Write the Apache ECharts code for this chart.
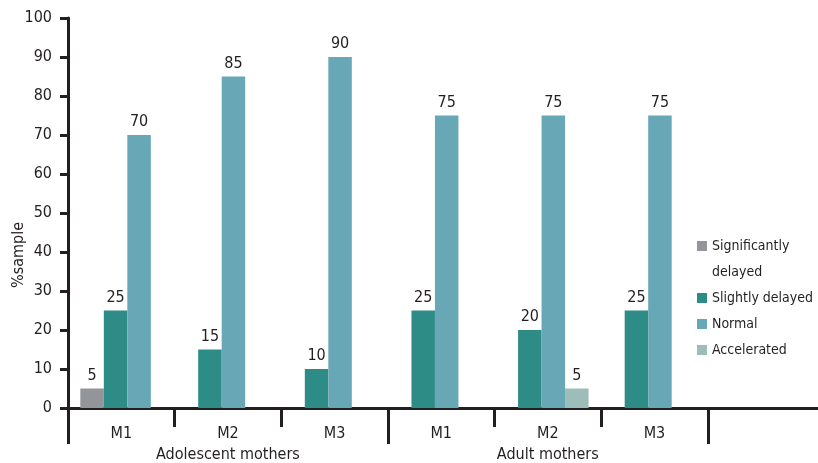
<!DOCTYPE html>
<html>
<head>
<meta charset="utf-8">
<script src="https://cdn.jsdelivr.net/npm/echarts@6/dist/echarts.min.js"></script>
<style>
html,body{margin:0;padding:0;background:#fff;}
#main{width:818px;height:463px;}
</style>
</head>
<body>
<div id="main"></div>
<script>
// categories (the original leaves empty slots on the right)
var months = ['M1', 'M2', 'M3', 'M1', 'M2', 'M3', '', ''];
var groupLabels = ['', 'Adolescent mothers', '', '', 'Adult mothers', '', '', ''];
var yTicks = [0, 10, 20, 30, 40, 50, 60, 70, 80, 90, 100];

// series values, one per category (null = no bar)
var sigDelayed    = [5, null, null, null, null, null];
var slightDelayed = [25, 15, 10, 25, 20, 25];
var normal        = [70, 85, 90, 75, 75, 75];
var accelerated   = [null, null, null, null, 5, null];

var names = ['Significantly delayed', 'Slightly delayed', 'Normal', 'Accelerated'];
var colors = ['#949599', '#2e8c87', '#68a8b6', '#9dbdbb'];
var font = "'Liberation Sans Narrow', 'DejaVu Sans Condensed', sans-serif";
var ink = '#231f20';

// first group uses 4 bar slots, the others 3 -> two overlaid x axes
function only(arr, keepFirst) {
	var out = [];
	for (var i = 0; i < arr.length; i++) {
		if ((i == 0) == keepFirst) out.push(arr[i]); else out.push(null);
	}
	return out;
}

function barSeries(name, data, axis, color) {
	return {
		name: name,
		type: 'bar',
		xAxisIndex: axis,
		data: data,
		barWidth: 23.5,
		barGap: 0,
		itemStyle: {color: color},
		label: {show: true, position: 'top', distance: 5, color: ink, fontFamily: font, fontSize: 16}
	};
}
// invisible bar used only to push the group sideways
function spacer(axis, w) {
	return {name: 'sp' + axis, type: 'bar', xAxisIndex: axis, data: [0,0,0,0,0,0], barWidth: w, barGap: 0,
		itemStyle: {color: 'transparent'}, silent: true};
}

var series = [
	spacer(0, 12),
	barSeries(names[0], sigDelayed, 0, colors[0]),
	barSeries(names[1], only(slightDelayed, true), 0, colors[1]),
	barSeries(names[2], only(normal, true), 0, colors[2]),
	barSeries(names[3], only(accelerated, true), 0, colors[3]),
	spacer(1, 11),
	barSeries(names[1], only(slightDelayed, false), 1, colors[1]),
	barSeries(names[2], only(normal, false), 1, colors[2]),
	barSeries(names[3], only(accelerated, false), 1, colors[3])
];

var myChart = echarts.init(document.getElementById('main'));
var option = {
	animation: false,
	grid: {left: 68, right: -103, top: 18, bottom: 55, containLabel: false, outerBoundsMode: 'none'},
	xAxis: [
		{
			type: 'category',
			data: months,
			axisLine: {lineStyle: {color: ink, width: 3}},
			axisTick: {show: false},
			axisLabel: {color: ink, fontFamily: font, fontSize: 16, margin: 18, interval: 0}
		},
		{
			// long ticks between the two groups + group names
			type: 'category',
			position: 'bottom',
			data: groupLabels,
			axisLine: {show: false},
			axisTick: {show: true, length: 36, lineStyle: {color: ink, width: 3},
				interval: function (i) { return i == 0 || i == 3 || i == 6; }},
			axisLabel: {color: ink, fontFamily: font, fontSize: 16, margin: 39, interval: 0}
		},
		{
			// short ticks between months
			type: 'category',
			position: 'bottom',
			data: months,
			axisLine: {show: false},
			axisLabel: {show: false},
			axisTick: {show: true, length: 19, lineStyle: {color: ink, width: 3},
				interval: function (i) { return i == 1 || i == 2 || i == 4 || i == 5; }}
		}
	],
	yAxis: {
		type: 'value',
		min: yTicks[0],
		max: yTicks[yTicks.length - 1],
		interval: 10,
		splitLine: {show: false},
		axisLine: {show: true, lineStyle: {color: ink, width: 3}},
		axisTick: {show: true, length: 8, lineStyle: {color: ink, width: 3}},
		axisLabel: {color: ink, fontFamily: font, fontSize: 16, margin: 16}
	},
	legend: {
		data: names,
		orient: 'vertical',
		left: 697,
		top: 207,
		padding: 0,
		itemWidth: 10,
		itemHeight: 10,
		itemGap: 0,
		icon: 'rect',
		// leading blank line keeps the icon beside the first text line
		formatter: function (n) { return n == 'Significantly delayed' ? ' \nSignificantly\ndelayed' : n; },
		textStyle: {color: ink, fontFamily: font, fontSize: 14, lineHeight: 26}
	},
	graphic: [{
		type: 'text',
		left: 11,
		top: 222,
		rotation: Math.PI / 2,
		style: {text: '%sample', fill: ink, font: '16px ' + font}
	}],
	series: series
};
myChart.setOption(option);
</script>
</body>
</html>
